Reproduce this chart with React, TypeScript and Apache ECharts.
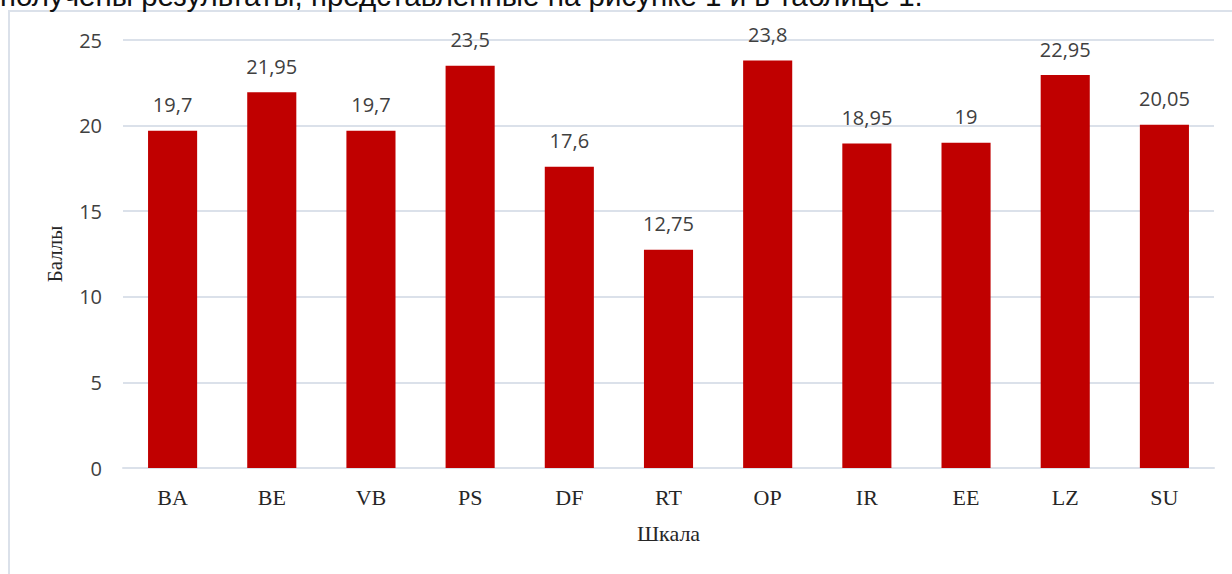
import React, { useEffect, useRef } from "react";
import * as echarts from "echarts";

const categories = ["BA", "BE", "VB", "PS", "DF", "RT", "OP", "IR", "EE", "LZ", "SU"];
const values = [19.7, 21.95, 19.7, 23.5, 17.6, 12.75, 23.8, 18.95, 19, 22.95, 20.05];
const yTicks = [0, 5, 10, 15, 20, 25];
const xAxisTitle = "Шкала";
const yAxisTitle = "Баллы";
const topText = "получены результаты, представленные на рисунке 1 и в таблице 1.";

export default function App() {
  const ref = useRef<HTMLDivElement>(null);
  useEffect(() => {
    if (!ref.current) return;
    const chart = echarts.init(ref.current, undefined, { renderer: "svg" });
    chart.setOption({
      animation: false,
      backgroundColor: "#ffffff",
      graphic: [
        {
          type: "rect",
          shape: { x: 9, y: 11, width: 1400, height: 800 },
          style: { fill: "none", stroke: "#dbe1ea", lineWidth: 2 },
          silent: true,
        },
        {
          type: "text",
          x: 0,
          y: 10,
          style: {
            text: topText,
            font: "29.5px 'Liberation Sans', Arial, sans-serif",
            fill: "#111111",
            verticalAlign: "bottom",
            align: "left",
          },
          silent: true,
        },
      ],
      grid: { left: 123, right: 18, top: 40, bottom: 106, containLabel: false },
      xAxis: {
        type: "category",
        data: categories,
        name: xAxisTitle,
        nameLocation: "middle",
        nameGap: 54,
        nameTextStyle: { fontFamily: "'Liberation Serif', 'Times New Roman', serif", fontSize: 22, color: "#262626" },
        axisLine: { show: true, lineStyle: { color: "#dbe1ea", width: 2 } },
        axisTick: { show: false },
        axisLabel: {
          fontFamily: "'Liberation Serif', 'Times New Roman', serif",
          fontSize: 22,
          color: "#262626",
          margin: 18,
        },
      },
      yAxis: {
        type: "value",
        min: 0,
        max: 25,
        interval: 5,
        name: yAxisTitle,
        nameLocation: "middle",
        nameGap: 58,
        nameRotate: 90,
        nameTextStyle: { fontFamily: "'Liberation Serif', 'Times New Roman', serif", fontSize: 21, color: "#262626" },
        axisLine: { show: false },
        axisTick: { show: false },
        axisLabel: {
          fontFamily: "'Open Sans', sans-serif",
          fontSize: 20,
          color: "#404040",
          margin: 21,
          formatter: (v: number) => (yTicks.includes(v) ? String(v) : ""),
        },
        splitLine: { lineStyle: { color: "#dbe1ea", width: 2 } },
      },
      series: [
        {
          type: "bar",
          data: values,
          barWidth: "49.5%",
          itemStyle: { color: "#c00000" },
          label: {
            show: true,
            position: "top",
            distance: 16,
            fontFamily: "'Open Sans', sans-serif",
            fontSize: 20,
            color: "#404040",
            formatter: (p: any) => String(p.value).replace(".", ","),
          },
        },
      ],
    });
    return () => chart.dispose();
  }, []);
  return (
    <div
      ref={ref}
      style={{ position: "fixed", left: 0, top: 0, width: 1232, height: 574 }}
    />
  );
}
